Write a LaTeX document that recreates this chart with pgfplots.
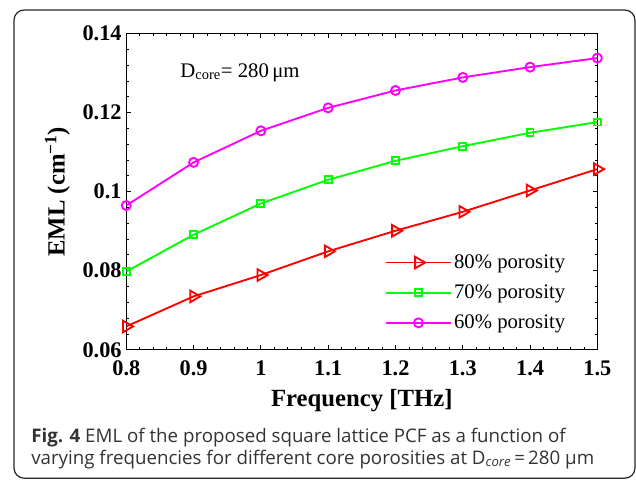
\documentclass[border=0pt]{standalone}
\usepackage{fontspec}
\setmainfont{Liberation Serif}
\newfontfamily\capfont{Open Sans}
\usepackage{pgfplots}
\pgfplotsset{compat=1.18}
\definecolor{mred}{RGB}{255,0,0}
\definecolor{mgreen}{RGB}{0,255,0}
\definecolor{mmag}{RGB}{255,0,255}
\begin{document}
\begin{tikzpicture}[x=1pt,y=1pt]
\path[use as bounding box] (-94.5,-98.25) rectangle (381.4,261.7);
% rounded frame round the figure
\draw[line width=0.9pt, black!85, rounded corners=7.5pt]
  (-84,-96.1) rectangle (380.6,254.2);
\begin{axis}[
    at={(0,0)}, anchor=south west,
    scale only axis,
    width=352.5pt, height=236.6pt,
    xmin=0.8, xmax=1.5,
    ymin=0.06, ymax=0.14,
    xtick={0.8,0.9,1,1.1,1.2,1.3,1.4,1.5},
    ytick={0.06,0.08,0.1,0.12,0.14},
    minor x tick num=4,
    minor y tick num=4,
    tick align=inside,
    major tick length=3.5pt,
    minor tick length=2pt,
    axis line style={line width=0.8pt},
    every tick/.style={black, line width=0.6pt},
    scaled y ticks=false,
    /pgf/number format/assume math mode=true,
    /pgf/number format/fixed,
    /pgf/number format/precision=2,
    tick label style={font=\fontsize{16.7}{20}\selectfont\bfseries},
    xticklabel style={yshift=-5pt},
    xlabel={Frequency [THz]},
    ylabel={EML (cm\textsuperscript{−1})},
    label style={font=\fontsize{18.5}{22}\selectfont\bfseries},
    xlabel style={at={(axis description cs:0.5,-0.162)}, anchor=center},
    ylabel style={at={(axis description cs:-0.1463,0.5)}, anchor=center},
    legend cell align=left,
    legend style={draw=none, fill=none, at={(0.541,0.3185)}, anchor=north west,
        font=\fontsize{15.5}{18}\selectfont, row sep=6.75pt,
        /tikz/every even column/.append style={column sep=4pt}},
    legend image code/.code={
        \draw[line width=1.4pt, mark repeat=2, mark phase=2]
            plot coordinates {(0pt,0pt) (24pt,0pt) (48pt,0pt)};},
]
\addplot[mred, line width=1.4pt, mark=triangle, mark size=5pt, mark options={rotate=-90}] coordinates {
    (0.8,0.0659) (0.9,0.0735) (1.0,0.0789) (1.1,0.0849)
    (1.2,0.0901) (1.3,0.0949) (1.4,0.1003) (1.5,0.1057)
};
\addlegendentry{80\% porosity}
\addplot[mgreen, line width=1.4pt, mark=square, mark size=2.6pt] coordinates {
    (0.8,0.0798) (0.9,0.0891) (1.0,0.0970) (1.1,0.1030)
    (1.2,0.1078) (1.3,0.1115) (1.4,0.1149) (1.5,0.1176)
};
\addlegendentry{70\% porosity}
\addplot[mmag, line width=1.4pt, mark=o, mark size=3.4pt] coordinates {
    (0.8,0.0965) (0.9,0.1074) (1.0,0.1154) (1.1,0.1212)
    (1.2,0.1256) (1.3,0.1289) (1.4,0.1315) (1.5,0.1338)
};
\addlegendentry{60\% porosity}
\node[anchor=base west, inner sep=0pt, font=\fontsize{15.5}{18}\selectfont]
    at (axis cs:0.88,0.129) {D\textsubscript{core}= 280\,μm};
\end{axis}
% caption below the plot
\node[anchor=base west, inner sep=0pt, align=left, text=black!80,
      font=\capfont\fontsize{14}{15.75}\selectfont]
    at (-71.25,-85.5) {\textbf{Fig. 4} EML of the proposed square lattice PCF as a function of\\
    varying frequencies for different core porosities at D\textsubscript{\itshape core}\,=\,280 μm};
\end{tikzpicture}
\end{document}
